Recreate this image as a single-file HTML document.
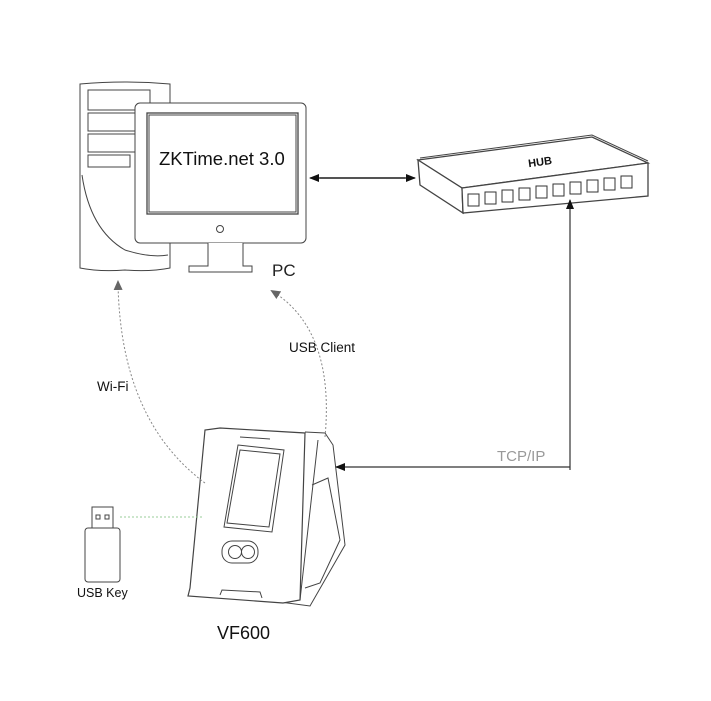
<!DOCTYPE html>
<html><head><meta charset="utf-8"><style>
html,body{margin:0;padding:0;background:#fff;}
svg{display:block;font-family:"Liberation Sans",sans-serif;}
</style></head><body>
<svg width="711" height="701" viewBox="0 0 711 701" xmlns="http://www.w3.org/2000/svg">
<defs>
<marker id="ah" markerWidth="10" markerHeight="8" refX="9" refY="4" orient="auto" markerUnits="userSpaceOnUse"><path d="M0,0 L10,4 L0,8 z" fill="#111"/></marker>
<marker id="ag" markerWidth="10" markerHeight="9" refX="8" refY="4.5" orient="auto" markerUnits="userSpaceOnUse"><path d="M0,0 L10,4.5 L0,9 z" fill="#666"/></marker>
</defs>
<g fill="none" stroke="#444" stroke-width="1">
<path d="M80,84 Q125,80 170,84 L170,268 Q150,272 125,270 Q100,272 80,268 z" fill="#fff"/>
<rect x="88" y="90" width="62" height="20" fill="#fff"/>
<rect x="88" y="113" width="62" height="18" fill="#fff"/>
<rect x="88" y="134" width="62" height="18" fill="#fff"/>
<rect x="88" y="155" width="42" height="12"/>
<path d="M82,175 Q90,230 125,250 Q150,258 168,255"/>
<rect x="135" y="103" width="171" height="140" rx="5" fill="#fff"/>
<rect x="147" y="113" width="151" height="101" stroke-width="1.3"/>
<rect x="149" y="115" width="147" height="97"/>
<circle cx="220" cy="229" r="3.5"/>
<path d="M208,243 L208,266 L189,266 L189,272 L252,272 L252,266 L243,266 L243,243" fill="#fff"/>
<path d="M418,160 L592,137 L648,163 L462,188 z" fill="#fff" stroke-width="1.3"/>
<path d="M418,160 L462,188 L463,213 L420,185 z" fill="#fff" stroke-width="1.3"/>
<path d="M462,188 L648,163 L648,196 L463,213 z" fill="#fff" stroke-width="1.3"/>
<path d="M420,158 L592,135 L648,161"/>
<path d="M305,432 L325,433 L333,445 L345,545 L310,606 L280,602" fill="#fff"/>
<path d="M312,485 L328,478 L340,540 L320,583 L305,588"/>
<path d="M318,440 L300,600"/>
<path d="M220,428 L305,433 L300,600 L283,603 L188,596 L190,588 L205,430 z" fill="#fff" stroke-width="1.2"/>
<path d="M238,445 L284,450 L272,532 L224,527 z"/>
<path d="M240,450 L280,454 L269,527 L227,523 z"/>
<path d="M240,437 L270,439"/>
<rect x="222" y="541" width="36" height="22" rx="10"/>
<circle cx="235" cy="552" r="6.5"/>
<circle cx="248" cy="552" r="6.5"/>
<path d="M220,595 L222,590 L260,592 L262,598"/>
<rect x="92" y="507" width="21" height="23" fill="#fff"/>
<rect x="85" y="528" width="35" height="54" rx="3" fill="#fff"/>
<rect x="96" y="515" width="4" height="4"/>
<rect x="105" y="515" width="4" height="4"/>
</g>
<g fill="none" stroke="#333" stroke-width="1">
<rect x="468" y="194" width="11" height="12"/><rect x="485" y="192" width="11" height="12"/>
<rect x="502" y="190" width="11" height="12"/><rect x="519" y="188" width="11" height="12"/>
<rect x="536" y="186" width="11" height="12"/><rect x="553" y="184" width="11" height="12"/>
<rect x="570" y="182" width="11" height="12"/><rect x="587" y="180" width="11" height="12"/>
<rect x="604" y="178" width="11" height="12"/><rect x="621" y="176" width="11" height="12"/>
</g>
<text x="528" y="167" font-size="11" font-weight="bold" fill="#111" transform="rotate(-8 530 162)">HUB</text>
<line x1="320" y1="178" x2="415" y2="178" stroke="#111" stroke-width="1.2" marker-end="url(#ah)"/>
<line x1="405" y1="178" x2="310" y2="178" stroke="#111" stroke-width="1.2" marker-end="url(#ah)"/>
<polyline points="570,470 570,200" fill="none" stroke="#333" stroke-width="1.2" marker-end="url(#ah)"/>
<polyline points="570,467 336,467" fill="none" stroke="#333" stroke-width="1.2" marker-end="url(#ah)"/>
<path d="M205,483 Q120,420 118,282" fill="none" stroke="#888" stroke-dasharray="2,2" marker-end="url(#ag)"/>
<path d="M325,437 Q335,330 272,291" fill="none" stroke="#888" stroke-dasharray="2,2" marker-end="url(#ag)"/>
<line x1="120" y1="517" x2="203" y2="517" stroke="#9c9" stroke-dasharray="2,2"/>
<text x="159" y="165" font-size="18.5" fill="#111">ZKTime.net 3.0</text>
<text x="272" y="276" font-size="17" fill="#222">PC</text>
<text x="497" y="461" font-size="15" fill="#999">TCP/IP</text>
<text x="97" y="391" font-size="13.5" fill="#111">Wi-Fi</text>
<text x="289" y="352" font-size="13.5" fill="#111">USB Client</text>
<text x="77" y="597" font-size="12.5" fill="#111">USB Key</text>
<text x="217" y="639" font-size="18" fill="#111">VF600</text>
</svg>
</body></html>
